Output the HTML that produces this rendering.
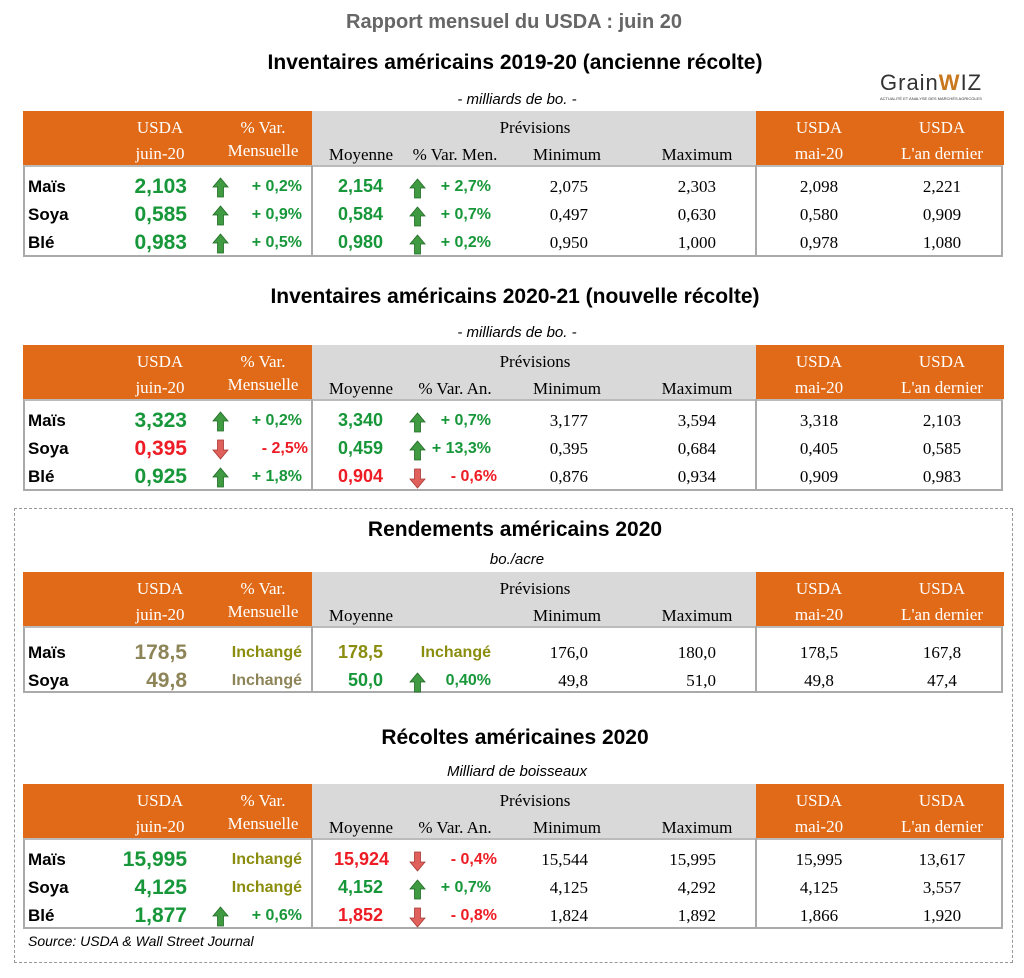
<!DOCTYPE html>
<html><head><meta charset="utf-8">
<style>
body{margin:0;background:#fff;}
#root{position:relative;width:1024px;height:978px;overflow:hidden;background:#fff;font-family:"Liberation Sans",sans-serif;}
.t{position:absolute;white-space:nowrap;line-height:1;}
.c{transform:translateX(-50%);}
.r{transform:translateX(-100%);}
.title{font-weight:bold;font-size:21px;color:#000;}
.sub{font-style:italic;font-size:15px;color:#000;}
.hd{font-family:"Liberation Serif",serif;font-size:17px;}
.nm{font-weight:bold;font-size:17px;color:#000;}
.big{font-weight:bold;font-size:21px;}
.moy{font-weight:bold;font-size:18px;}
.pct{font-weight:bold;font-size:16px;}
.num{font-family:"Liberation Serif",serif;font-size:17px;color:#000;}
.box{position:absolute;}
</style></head>
<body>
<div id="root">
  <div class="t c" style="left:514px;top:12px;font-weight:bold;font-size:20px;color:#666;">Rapport mensuel du USDA : juin 20</div>
  <div class="box" style="left:14px;top:508px;width:997px;height:453px;border:1px dashed #999;"></div>
  <div class="box" style="left:878px;top:48px;width:110px;height:55px;">
    <div class="t" style="left:2px;top:24px;font-size:22px;color:#333;letter-spacing:1px;">Grain<span style="color:#c8781e;font-weight:bold;">W</span>IZ</div>
    <div class="t" style="left:2px;top:49px;font-size:4px;color:#333;">ACTUALITÉ ET ANALYSE DES MARCHÉS AGRICOLES</div>
  </div>
</div>
<script>
// ---- data ----
const titles = ["Inventaires américains 2019-20 (ancienne récolte)","Inventaires américains 2020-21 (nouvelle récolte)","Rendements américains 2020","Récoltes américaines 2020"];
const subtitles = ["- milliards de bo. -","- milliards de bo. -","bo./acre","Milliard de boisseaux"];
const varHeaders = ["% Var. Men.","% Var. An.","","% Var. An."];
const names1 = ["Maïs","Soya","Blé"];
const usda1 = ["2,103","0,585","0,983"];
const varM1 = ["+ 0,2%","+ 0,9%","+ 0,5%"];
const moy1 = ["2,154","0,584","0,980"];
const varP1 = ["+ 2,7%","+ 0,7%","+ 0,2%"];
const min1 = ["2,075","0,497","0,950"];
const max1 = ["2,303","0,630","1,000"];
const mai1 = ["2,098","0,580","0,978"];
const last1 = ["2,221","0,909","1,080"];

const names2 = ["Maïs","Soya","Blé"];
const usda2 = ["3,323","0,395","0,925"];
const varM2 = ["+ 0,2%","- 2,5%","+ 1,8%"];
const moy2 = ["3,340","0,459","0,904"];
const varP2 = ["+ 0,7%","+ 13,3%","- 0,6%"];
const min2 = ["3,177","0,395","0,876"];
const max2 = ["3,594","0,684","0,934"];
const mai2 = ["3,318","0,405","0,909"];
const last2 = ["2,103","0,585","0,983"];

const names3 = ["Maïs","Soya"];
const usda3 = ["178,5","49,8"];
const varM3 = ["Inchangé","Inchangé"];
const moy3 = ["178,5","50,0"];
const varP3 = ["Inchangé","0,40%"];
const min3 = ["176,0","49,8"];
const max3 = ["180,0","51,0"];
const mai3 = ["178,5","49,8"];
const last3 = ["167,8","47,4"];

const names4 = ["Maïs","Soya","Blé"];
const usda4 = ["15,995","4,125","1,877"];
const varM4 = ["Inchangé","Inchangé","+ 0,6%"];
const moy4 = ["15,924","4,152","1,852"];
const varP4 = ["- 0,4%","+ 0,7%","- 0,8%"];
const min4 = ["15,544","4,125","1,824"];
const max4 = ["15,995","4,292","1,892"];
const mai4 = ["15,995","4,125","1,866"];
const last4 = ["13,617","3,557","1,920"];

const tables = [
  {names:names1,usda:usda1,varM:varM1,moy:moy1,varP:varP1,min:min1,max:max1,mai:mai1,last:last1,usdaC:["g","g","g"],moyC:["g","g","g"],varMArrow:[1,1,1],varPArrow:[1,1,1]},
  {names:names2,usda:usda2,varM:varM2,moy:moy2,varP:varP2,min:min2,max:max2,mai:mai2,last:last2,usdaC:["g","r","g"],moyC:["g","g","r"],varMArrow:[1,-1,1],varPArrow:[1,1,-1]},
  {names:names3,usda:usda3,varM:varM3,moy:moy3,varP:varP3,min:min3,max:max3,mai:mai3,last:last3,usdaC:["t","t"],moyC:["o","g"],varMArrow:[0,0],varPArrow:[0,1],varMC:["o","t"],varPC:["o","g"]},
  {names:names4,usda:usda4,varM:varM4,moy:moy4,varP:varP4,min:min4,max:max4,mai:mai4,last:last4,usdaC:["g","g","g"],moyC:["r","g","r"],varMArrow:[0,0,1],varPArrow:[-1,1,-1],varMC:["o","o","g"]}
];
// layout
const layoutY = [
  {title:52,sub:92,hTop:111,hBot:165,rows:[187,215,243],bot:257},
  {title:286,sub:325,hTop:345,hBot:399,rows:[421,449,477],bot:491},
  {title:519,sub:552,hTop:572,hBot:626,rows:[653,681],bot:693},
  {title:727,sub:764,hTop:784,hBot:838,rows:[860,888,916],bot:929}
];
const COL = {C:{g:"#17973a",r:"#ee1c24",o:"#8b8d0e",t:"#8d8457"}};
const root = document.getElementById('root');
function add(cls, text, x, y, style){
  const d = document.createElement('div');
  d.className = 't ' + cls;
  d.textContent = text;
  d.style.left = x + 'px';
  d.style.top = y + 'px';
  if (style) d.style.cssText += style;
  root.appendChild(d);
  return d;
}
function rect(x,y,w,h,bg){
  const d=document.createElement('div');
  d.className='box';
  d.style.cssText+=`left:${x}px;top:${y}px;width:${w}px;height:${h}px;background:${bg};`;
  root.appendChild(d);return d;
}
function arrow(x,y,dir){
  const ns="http://www.w3.org/2000/svg";
  const s=document.createElementNS(ns,'svg');
  s.setAttribute('width','17');s.setAttribute('height','21');
  s.style.cssText=`position:absolute;left:${x}px;top:${y}px;`;
  const p=document.createElementNS(ns,'path');
  if(dir>0){p.setAttribute('d','M8.5 1 L16 10 L11.5 10 L11.5 20 L5.5 20 L5.5 10 L1 10 Z');p.setAttribute('fill','#3f9a42');p.setAttribute('stroke','#1f6b24');}
  else{p.setAttribute('d','M8.5 20 L16 11 L11.5 11 L11.5 1 L5.5 1 L5.5 11 L1 11 Z');p.setAttribute('fill','#e0605c');p.setAttribute('stroke','#a83a36');}
  p.setAttribute('stroke-width','0.8');
  s.appendChild(p);
  root.appendChild(s);
  return s;
}
tables.forEach((tb,i)=>{
  const L=layoutY[i];
  const t=add('title c',titles[i],515,L.title);
  
  
  const s=add('sub c',subtitles[i],517,L.sub);
  
  
  const hh=L.hBot-L.hTop;
  const o1=rect(23,L.hTop,289,hh,'#e06a17');
  
  
  const g=rect(312,L.hTop,444,hh,'#d9d9d9');
  
  
  const o2=rect(756,L.hTop,248,hh,'#e06a17');
  
  
  const y1=L.hTop+8,y2=L.hTop+34;
  const W='color:#fff;';
  add('hd c','USDA',160,y1,W);add('hd c','juin-20',160,y2,W);
  add('hd c','% Var.',263,y1,W);add('hd c','Mensuelle',263,y2-3,W);
  add('hd c','Prévisions',535,y1,'color:#000;');
  add('hd c','Moyenne',361,y2+1,'color:#000;');
  if(varHeaders[i]) add('hd c',varHeaders[i],455,y2+1,'color:#000;');
  add('hd c','Minimum',567,y2+1,'color:#000;');
  add('hd c','Maximum',697,y2+1,'color:#000;');
  add('hd c','USDA',819,y1,W);add('hd c','mai-20',819,y2,W);
  add('hd c','USDA',942,y1,W);add('hd c',"L'an dernier",942,y2,W);
  const bh=L.bot-L.hBot;
  const body=rect(23,L.hBot,980,bh,'transparent');
  body.style.borderLeft='2px solid #aaa';body.style.borderRight='2px solid #aaa';body.style.borderBottom='2px solid #aaa';
  body.style.borderTop='2px solid #bbb';body.style.boxSizing='border-box';
  
  
  rect(311,L.hBot,2,bh,'#aaa');
  rect(755,L.hBot,2,bh,'#aaa');
  tb.names.forEach((nm,j)=>{
    const cy=L.rows[j];
    const n=add('nm',nm,28,cy-9);
    
    
    add('big r',tb.usda[j],187,cy-11,'color:'+COL.C[tb.usdaC[j]]+';');
    const vmc = tb.varMC ? tb.varMC[j] : (tb.varMArrow[j]<0?'r':'g');
    if(tb.varMArrow[j]) arrow(212,cy-10,tb.varMArrow[j]);
    add('pct r',tb.varM[j],tb.varM[j].startsWith('-')?308:302,cy-8,'color:'+COL.C[vmc]+';');
    add('moy r',tb.moy[j],i==3&&j==0?389:383,cy-10,'color:'+COL.C[tb.moyC[j]]+';');
    const vpc = tb.varPC ? tb.varPC[j] : (tb.varPArrow[j]<0?'r':'g');
    if(tb.varPArrow[j]) arrow(409,cy-9,tb.varPArrow[j]);
    add('pct r',tb.varP[j],tb.varP[j].startsWith('-')?497:491,cy-8,'color:'+COL.C[vpc]+';');
    add('num r',tb.min[j],588,cy-9);
    add('num r',tb.max[j],716,cy-9);
    add('num c',tb.mai[j],819,cy-9);
    add('num c',tb.last[j],942,cy-9);
  });
});
const src=add('sub','Source: USDA & Wall Street Journal',28,934,'font-size:14px;');


</script>
</body></html>
